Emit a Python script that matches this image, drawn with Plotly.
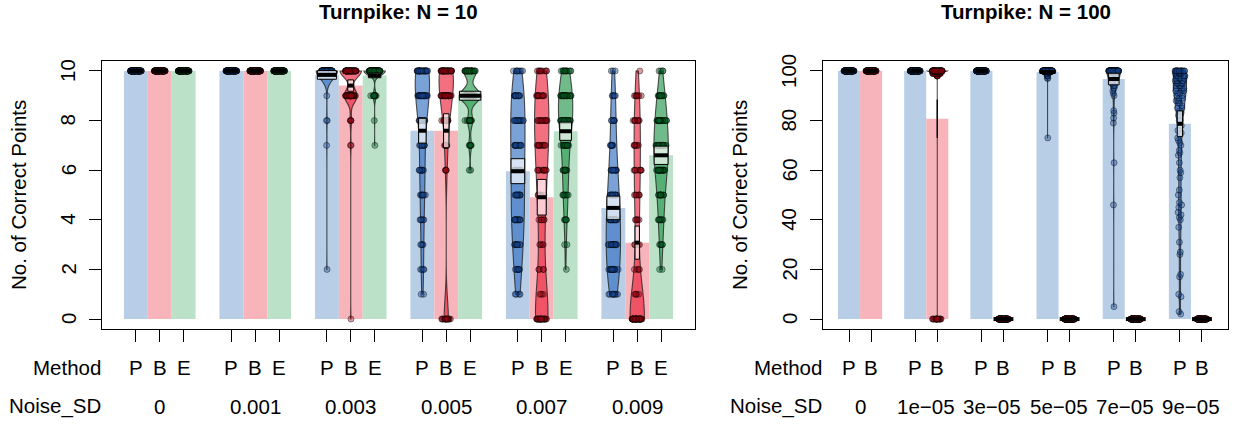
import numpy as np
import plotly.graph_objects as go

W, H = 1237, 424

# ---------------- Left panel: Turnpike N = 10 ----------------
noise10 = ["0", "0.001", "0.003", "0.005", "0.007", "0.009"]
methods10 = ["P", "B", "E"]
vals10 = [10, 9, 8, 7, 6, 5, 4, 3, 2, 1, 0]
# number of runs reaching each value of vals10
n10_P_0 = [100, 0, 0, 0, 0, 0, 0, 0, 0, 0, 0]
n10_B_0 = [100, 0, 0, 0, 0, 0, 0, 0, 0, 0, 0]
n10_E_0 = [100, 0, 0, 0, 0, 0, 0, 0, 0, 0, 0]
n10_P_001 = [100, 0, 0, 0, 0, 0, 0, 0, 0, 0, 0]
n10_B_001 = [100, 0, 0, 0, 0, 0, 0, 0, 0, 0, 0]
n10_E_001 = [100, 0, 0, 0, 0, 0, 0, 0, 0, 0, 0]
n10_P_003 = [95, 1, 2, 1, 0, 0, 0, 0, 1, 0, 0]
n10_B_003 = [58, 35, 4, 2, 0, 0, 0, 0, 0, 0, 1]
n10_E_003 = [85, 13, 1, 1, 0, 0, 0, 0, 0, 0, 0]
n10_P_005 = [30, 22, 10, 8, 8, 7, 5, 4, 4, 2, 0]
n10_B_005 = [38, 25, 11, 6, 4, 0, 0, 0, 0, 0, 16]
n10_E_005 = [30, 50, 12, 6, 2, 0, 0, 0, 0, 0, 0]
n10_P_007 = [8, 12, 13, 12, 12, 11, 12, 9, 7, 4, 0]
n10_B_007 = [9, 12, 12, 10, 9, 6, 5, 4, 4, 3, 26]
n10_E_007 = [13, 24, 24, 13, 10, 8, 5, 2, 1, 0, 0]
n10_P_009 = [3, 5, 6, 7, 10, 13, 16, 16, 15, 9, 0]
n10_B_009 = [1, 7, 8, 7, 8, 6, 5, 4, 4, 4, 46]
n10_E_009 = [4, 12, 18, 22, 18, 11, 8, 5, 2, 0, 0]

# ---------------- Right panel: Turnpike N = 100 ----------------
noise100 = ["0", "1e\u221205", "3e\u221205", "5e\u221205", "7e\u221205", "9e\u221205"]
methods100 = ["P", "B"]
# (values, counts) per bean
n100_P_0 = ([100], [100])
n100_B_0 = ([100], [100])
n100_P_1e5 = ([100], [100])
n100_B_1e5 = ([100, 99, 98, 0], [60, 15, 6, 19])
n100_P_3e5 = ([100], [100])
n100_B_3e5 = ([0], [100])
n100_P_5e5 = ([100, 99, 98, 97, 73], [90, 4, 3, 2, 1])
n100_B_5e5 = ([0], [100])
n100_P_7e5 = ([100, 99, 98, 97, 96, 95, 94, 93, 92, 91, 90, 84, 83, 81, 79, 63, 46, 5],
              [79, 2, 2, 2, 1, 1, 2, 1, 1, 1, 1, 1, 1, 1, 1, 1, 1, 1])
n100_B_7e5 = ([0], [100])
n100_P_9e5 = ([100, 99, 98, 97, 96, 95, 94, 93, 92, 91, 90, 89, 88, 87, 86, 85, 84, 83, 82, 80,
               78, 76, 75, 73, 72, 71, 70, 68, 67, 66, 63, 60, 59, 57, 52, 50, 47, 46, 45, 43,
               42, 41, 40, 37, 31, 27, 26, 18, 17, 10, 9, 3, 2],
              [18, 5, 5, 4, 4, 4, 3, 3, 3, 2, 2, 2, 2, 2, 1, 2, 1, 1, 1, 2,
               1, 1, 1, 1, 1, 1, 1, 1, 1, 1, 1, 1, 1, 1, 1, 1, 1, 1, 1, 1,
               1, 1, 1, 1, 1, 1, 1, 1, 1, 1, 1, 1, 1])
n100_B_9e5 = ([0], [100])

left_beans = [
    [n10_P_0, n10_B_0, n10_E_0],
    [n10_P_001, n10_B_001, n10_E_001],
    [n10_P_003, n10_B_003, n10_E_003],
    [n10_P_005, n10_B_005, n10_E_005],
    [n10_P_007, n10_B_007, n10_E_007],
    [n10_P_009, n10_B_009, n10_E_009],
]
right_beans = [
    [n100_P_0, n100_B_0], [n100_P_1e5, n100_B_1e5], [n100_P_3e5, n100_B_3e5],
    [n100_P_5e5, n100_B_5e5], [n100_P_7e5, n100_B_7e5], [n100_P_9e5, n100_B_9e5],
]

# ---------------- styles ----------------
BAR = {"P": "rgb(184,206,230)", "B": "rgb(248,180,187)", "E": "rgb(188,225,201)"}
BEAN = {"P": "rgba(40,105,190,0.62)", "B": "rgba(235,25,50,0.62)", "E": "rgba(25,145,65,0.62)"}
PT = {"P": "rgba(20,70,150,0.38)", "B": "rgba(150,0,15,0.38)", "E": "rgba(0,95,35,0.38)"}
FONT = "Liberation Sans, Arial, Helvetica, sans-serif"
FS = 20.5
WMIN, WMAX = 0.3, 0.45   # bean half-width limits (x units)

L_BOX = (102, 695)
R_BOX = (823, 1228)
TOP, BOT = 61, 329


def bw_nrd0(x):
    x = np.asarray(x, float)
    hi = np.std(x, ddof=1) if len(x) > 1 else 0.0
    q75, q25 = np.percentile(x, [75, 25])
    lo = min(hi, (q75 - q25) / 1.34)
    if not lo:
        lo = hi or abs(x[0]) or 1.0
    return 0.9 * lo * len(x) ** -0.2


def density(x, grid, bw):
    x = np.asarray(x, float)
    z = (grid[:, None] - x[None, :]) / bw
    return np.exp(-0.5 * z * z).sum(axis=1) / (len(x) * bw * np.sqrt(2 * np.pi))


fig = go.Figure()


def add_panel(beans, methods, step, xa, ya):
    traces_bar, traces_violin, traces_pts, traces_top = [], [], [], []
    bar_x = {m: [] for m in methods}
    bar_y = {m: [] for m in methods}
    for g, group in enumerate(beans):
        for k, bean in enumerate(group):
            m = methods[k]
            pos = 1 + step * g + k
            if isinstance(bean, tuple):
                data = np.repeat(bean[0], bean[1]).astype(float)
            else:
                data = np.repeat(vals10, bean).astype(float)
            mean = data.mean()
            bar_x[m].append(pos)
            bar_y[m].append(mean)
            bw = bw_nrd0(data)
            full = np.linspace(data.min() - 3 * bw, data.max() + 3 * bw, 512)
            peak = density(data, full, bw).max()
            s = 1.0
            if peak < WMIN:
                s = WMIN / peak
            elif peak > WMAX:
                s = WMAX / peak
            hw = s * density(data, np.array([mean]), bw)[0]
            if data.max() > data.min():
                grid = np.linspace(data.min(), data.max(), 1500)
                vmax = s * density(data, grid, bw).max()
                traces_violin.append(go.Violin(
                    x=[pos] * len(data), y=data, xaxis=xa, yaxis=ya,
                    width=2 * vmax, scalemode="width", spanmode="hard", bandwidth=bw,
                    points=False, fillcolor=BEAN[m],
                    line=dict(color="rgba(25,25,25,0.75)", width=1.1),
                    box_visible=False, meanline_visible=False,
                    hoverinfo="skip", showlegend=False))
            traces_pts.append(go.Box(
                x=[pos] * len(data), y=data, xaxis=xa, yaxis=ya,
                boxpoints="all", jitter=0.45, pointpos=0, width=1.0,
                fillcolor="rgba(0,0,0,0)", line=dict(width=0, color="rgba(0,0,0,0)"),
                whiskerwidth=0,
                marker=dict(size=6, color=PT[m], line=dict(color="rgba(0,0,0,0.4)", width=1)),
                hoverinfo="skip", showlegend=False))
            sd = data.std(ddof=1)
            if sd > 0:
                half = 1.96 * sd / np.sqrt(len(data))
                lo, hi = mean - half, mean + half
                traces_top.append(go.Scatter(
                    x=[pos - hw, pos + hw, pos + hw, pos - hw, pos - hw],
                    y=[lo, lo, hi, hi, lo], xaxis=xa, yaxis=ya, mode="lines",
                    fill="toself", fillcolor="rgba(255,255,255,0.7)",
                    line=dict(color="black", width=1), hoverinfo="skip", showlegend=False))
            traces_top.append(go.Scatter(
                x=[pos - hw, pos + hw], y=[mean, mean], xaxis=xa, yaxis=ya, mode="lines",
                line=dict(color="black", width=4), hoverinfo="skip", showlegend=False))
    for m in methods:
        traces_bar.append(go.Bar(x=bar_x[m], y=bar_y[m], width=1.0, xaxis=xa, yaxis=ya,
                                 marker=dict(color=BAR[m], line=dict(width=0)),
                                 hoverinfo="skip", showlegend=False))
    for t in traces_bar + traces_violin + traces_pts + traces_top:
        fig.add_trace(t)


add_panel(left_beans, methods10, 4, "x", "y")
add_panel(right_beans, methods100, 3, "x2", "y2")

ydom = [1 - BOT / H, 1 - TOP / H]
left_pos = [1 + 4 * g + k for g in range(6) for k in range(3)]
right_pos = [1 + 3 * g + k for g in range(6) for k in range(2)]

axis_common = dict(showline=True, mirror=True, linecolor="black", linewidth=1,
                   ticks="outside", ticklen=12, tickwidth=1, tickcolor="black",
                   showticklabels=False, showgrid=False, zeroline=False, fixedrange=True)

fig.update_layout(
    width=W, height=H, autosize=False,
    margin=dict(l=0, r=0, t=0, b=0),
    paper_bgcolor="white", plot_bgcolor="white",
    barmode="overlay", boxmode="overlay", violinmode="overlay",
    showlegend=False,
    xaxis=dict(domain=[L_BOX[0] / W, L_BOX[1] / W], range=[-0.42, 24.42], type="linear",
               tickvals=left_pos, anchor="y", **axis_common),
    yaxis=dict(domain=ydom, range=[-0.4, 10.4], tickvals=[0, 2, 4, 6, 8, 10], anchor="x",
               **axis_common),
    xaxis2=dict(domain=[R_BOX[0] / W, R_BOX[1] / W], range=[-0.18, 18.18], type="linear",
                tickvals=right_pos, anchor="y2", **axis_common),
    yaxis2=dict(domain=ydom, range=[-4, 104], tickvals=[0, 20, 40, 60, 80, 100], anchor="x2",
                **axis_common),
)

ann = []
font = dict(family=FONT, size=FS, color="black")


def add_texts(box, xref, yref, yticks, labels_m, pos_list, groups, step, nm, title):
    cx = (box[0] + box[1]) / 2 / W
    ann.append(dict(text="<b>%s</b>" % title, x=cx, y=1 - 12 / H, xref="paper", yref="paper",
                    showarrow=False, xanchor="center", yanchor="middle", font=font))
    ann.append(dict(text="No. of Correct Points", x=(box[0] - 84) / W, y=1 - (TOP + BOT) / 2 / H,
                    xref="paper", yref="paper", textangle=-90, showarrow=False,
                    xanchor="center", yanchor="middle", font=font))
    for v in yticks:
        ann.append(dict(text=str(v), x=(box[0] - 34) / W, y=v, xref="paper", yref=yref,
                        textangle=-90, showarrow=False, xanchor="center", yanchor="middle",
                        font=font))
    for i, p in enumerate(pos_list):
        ann.append(dict(text=labels_m[i % nm], x=p, y=1 - 367 / H, xref=xref, yref="paper",
                        showarrow=False, xanchor="center", yanchor="middle", font=font))
    for g, lab in enumerate(groups):
        c = 1 + step * g + (nm - 1) / 2
        ann.append(dict(text=lab, x=c, y=1 - 406 / H, xref=xref, yref="paper",
                        showarrow=False, xanchor="center", yanchor="middle", font=font))
    ann.append(dict(text="Method", x=(box[0] + 1) / W, y=1 - 367 / H, xref="paper", yref="paper",
                    showarrow=False, xanchor="right", yanchor="middle", font=font))
    ann.append(dict(text="Noise_SD", x=(box[0] + 1) / W, y=1 - 406 / H, xref="paper", yref="paper",
                    showarrow=False, xanchor="right", yanchor="middle", font=font))


add_texts(L_BOX, "x", "y", [0, 2, 4, 6, 8, 10], methods10, left_pos, noise10, 4, 3,
          "Turnpike: N = 10")
add_texts(R_BOX, "x2", "y2", [0, 20, 40, 60, 80, 100], methods100, right_pos, noise100, 3, 2,
          "Turnpike: N = 100")
fig.update_layout(annotations=ann)

fig.write_html("out.html", config={"displayModeBar": False},
               post_script="document.body.style.margin='0px';document.body.style.overflow='hidden';")
